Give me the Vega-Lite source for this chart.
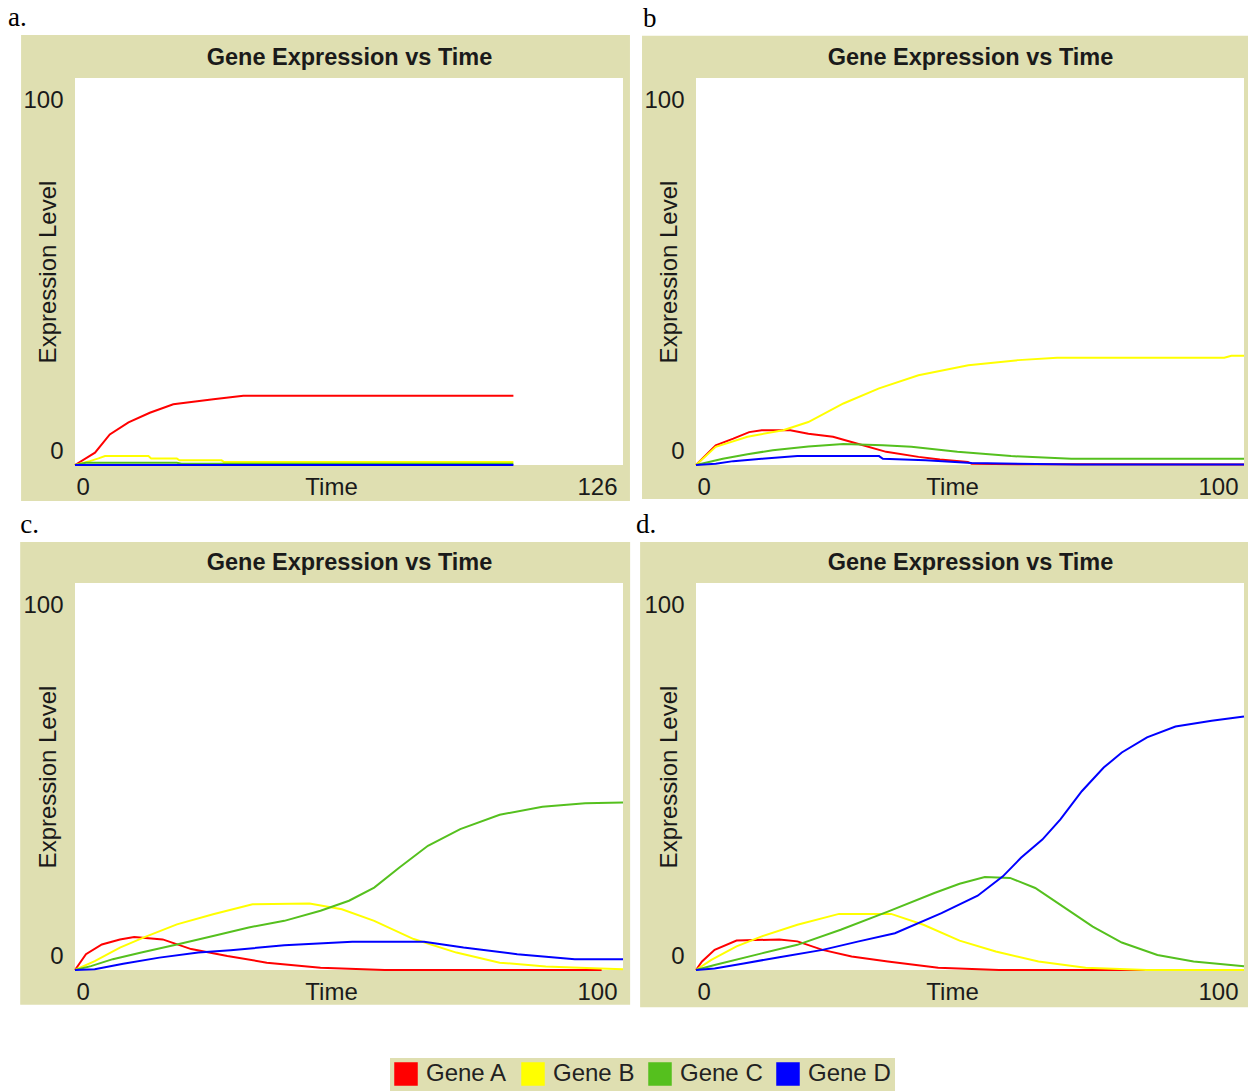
{
  "$schema": "https://vega.github.io/schema/vega-lite/v6.json",
  "background": "white",
  "padding": {"left": 8, "top": 4, "right": 0, "bottom": 0},
  "datasets": {
    "expr": [
      {"p":"a","g":"Gene A","t":0,"v":0},{"p":"a","g":"Gene A","t":4.6,"v":3.2},{"p":"a","g":"Gene A","t":8.0,"v":7.9},{"p":"a","g":"Gene A","t":12.3,"v":11.0},{"p":"a","g":"Gene A","t":17.2,"v":13.5},{"p":"a","g":"Gene A","t":22.6,"v":15.7},{"p":"a","g":"Gene A","t":31.8,"v":17.0},{"p":"a","g":"Gene A","t":38.7,"v":17.9},{"p":"a","g":"Gene A","t":100.8,"v":17.9},
      {"p":"a","g":"Gene B","t":0,"v":0},{"p":"a","g":"Gene B","t":3.4,"v":1.0},{"p":"a","g":"Gene B","t":5.4,"v":1.7},{"p":"a","g":"Gene B","t":6.9,"v":2.3},{"p":"a","g":"Gene B","t":16.9,"v":2.3},{"p":"a","g":"Gene B","t":17.5,"v":1.7},{"p":"a","g":"Gene B","t":23.4,"v":1.7},{"p":"a","g":"Gene B","t":24.0,"v":1.2},{"p":"a","g":"Gene B","t":33.7,"v":1.2},{"p":"a","g":"Gene B","t":34.2,"v":0.8},{"p":"a","g":"Gene B","t":100.8,"v":0.8},
      {"p":"a","g":"Gene C","t":0,"v":0},{"p":"a","g":"Gene C","t":2.5,"v":0.6},{"p":"a","g":"Gene C","t":23.4,"v":0.6},{"p":"a","g":"Gene C","t":24.5,"v":0.3},{"p":"a","g":"Gene C","t":100.8,"v":0.3},
      {"p":"a","g":"Gene D","t":0,"v":0},{"p":"a","g":"Gene D","t":100.8,"v":0},

      {"p":"b","g":"Gene A","t":0,"v":0},{"p":"b","g":"Gene A","t":3.6,"v":5.1},{"p":"b","g":"Gene A","t":6.8,"v":6.8},{"p":"b","g":"Gene A","t":9.7,"v":8.5},{"p":"b","g":"Gene A","t":12.0,"v":9.0},{"p":"b","g":"Gene A","t":17.2,"v":9.0},{"p":"b","g":"Gene A","t":20.5,"v":8.1},{"p":"b","g":"Gene A","t":25.0,"v":7.3},{"p":"b","g":"Gene A","t":29.5,"v":5.5},{"p":"b","g":"Gene A","t":34.7,"v":3.4},{"p":"b","g":"Gene A","t":40.6,"v":2.1},{"p":"b","g":"Gene A","t":44.5,"v":1.4},{"p":"b","g":"Gene A","t":49.6,"v":0.8},{"p":"b","g":"Gene A","t":50.3,"v":0.3},{"p":"b","g":"Gene A","t":60.0,"v":0.2},{"p":"b","g":"Gene A","t":69.5,"v":0.2},{"p":"b","g":"Gene A","t":100,"v":0.1},
      {"p":"b","g":"Gene B","t":0,"v":0},{"p":"b","g":"Gene B","t":3.6,"v":4.7},{"p":"b","g":"Gene B","t":9.4,"v":7.3},{"p":"b","g":"Gene B","t":15.9,"v":9.0},{"p":"b","g":"Gene B","t":20.5,"v":11.1},{"p":"b","g":"Gene B","t":26.9,"v":15.9},{"p":"b","g":"Gene B","t":33.4,"v":19.8},{"p":"b","g":"Gene B","t":40.6,"v":23.2},{"p":"b","g":"Gene B","t":49.7,"v":25.8},{"p":"b","g":"Gene B","t":58.8,"v":27.1},{"p":"b","g":"Gene B","t":65.9,"v":27.7},{"p":"b","g":"Gene B","t":96.4,"v":27.7},{"p":"b","g":"Gene B","t":97.7,"v":28.2},{"p":"b","g":"Gene B","t":100,"v":28.2},
      {"p":"b","g":"Gene C","t":0,"v":0},{"p":"b","g":"Gene C","t":4.9,"v":1.6},{"p":"b","g":"Gene C","t":9.4,"v":2.8},{"p":"b","g":"Gene C","t":14.0,"v":3.8},{"p":"b","g":"Gene C","t":20.5,"v":4.8},{"p":"b","g":"Gene C","t":26.9,"v":5.4},{"p":"b","g":"Gene C","t":34.1,"v":5.1},{"p":"b","g":"Gene C","t":39.3,"v":4.7},{"p":"b","g":"Gene C","t":47.7,"v":3.4},{"p":"b","g":"Gene C","t":57.5,"v":2.3},{"p":"b","g":"Gene C","t":68.5,"v":1.6},{"p":"b","g":"Gene C","t":100,"v":1.6},
      {"p":"b","g":"Gene D","t":0,"v":0},{"p":"b","g":"Gene D","t":3.6,"v":0.3},{"p":"b","g":"Gene D","t":6.8,"v":1.0},{"p":"b","g":"Gene D","t":12.0,"v":1.6},{"p":"b","g":"Gene D","t":18.5,"v":2.3},{"p":"b","g":"Gene D","t":33.4,"v":2.3},{"p":"b","g":"Gene D","t":34.1,"v":1.6},{"p":"b","g":"Gene D","t":41.9,"v":1.2},{"p":"b","g":"Gene D","t":50.3,"v":0.5},{"p":"b","g":"Gene D","t":69.5,"v":0.1},{"p":"b","g":"Gene D","t":100,"v":0.1},

      {"p":"c","g":"Gene A","t":0,"v":0},{"p":"c","g":"Gene A","t":2.0,"v":4.1},{"p":"c","g":"Gene A","t":4.9,"v":6.6},{"p":"c","g":"Gene A","t":8.2,"v":7.9},{"p":"c","g":"Gene A","t":10.8,"v":8.5},{"p":"c","g":"Gene A","t":16.0,"v":7.9},{"p":"c","g":"Gene A","t":21.2,"v":5.4},{"p":"c","g":"Gene A","t":27.8,"v":3.6},{"p":"c","g":"Gene A","t":35.0,"v":1.9},{"p":"c","g":"Gene A","t":44.8,"v":0.6},{"p":"c","g":"Gene A","t":56.5,"v":0},{"p":"c","g":"Gene A","t":96.1,"v":0},
      {"p":"c","g":"Gene B","t":0,"v":0},{"p":"c","g":"Gene B","t":3.6,"v":2.3},{"p":"c","g":"Gene B","t":8.2,"v":5.8},{"p":"c","g":"Gene B","t":12.7,"v":8.5},{"p":"c","g":"Gene B","t":18.6,"v":11.8},{"p":"c","g":"Gene B","t":25.2,"v":14.4},{"p":"c","g":"Gene B","t":32.4,"v":17.0},{"p":"c","g":"Gene B","t":42.8,"v":17.2},{"p":"c","g":"Gene B","t":48.7,"v":15.7},{"p":"c","g":"Gene B","t":54.6,"v":12.7},{"p":"c","g":"Gene B","t":61.8,"v":8.0},{"p":"c","g":"Gene B","t":69.6,"v":4.5},{"p":"c","g":"Gene B","t":77.5,"v":1.9},{"p":"c","g":"Gene B","t":85.9,"v":0.9},{"p":"c","g":"Gene B","t":95.8,"v":0.4},{"p":"c","g":"Gene B","t":100,"v":0.2},
      {"p":"c","g":"Gene C","t":0,"v":0},{"p":"c","g":"Gene C","t":2.9,"v":1.0},{"p":"c","g":"Gene C","t":6.9,"v":2.8},{"p":"c","g":"Gene C","t":12.1,"v":4.5},{"p":"c","g":"Gene C","t":18.6,"v":6.6},{"p":"c","g":"Gene C","t":25.2,"v":8.8},{"p":"c","g":"Gene C","t":31.7,"v":11.0},{"p":"c","g":"Gene C","t":38.2,"v":12.7},{"p":"c","g":"Gene C","t":44.8,"v":15.3},{"p":"c","g":"Gene C","t":50.0,"v":17.9},{"p":"c","g":"Gene C","t":54.6,"v":21.3},{"p":"c","g":"Gene C","t":59.2,"v":26.5},{"p":"c","g":"Gene C","t":64.4,"v":32.1},{"p":"c","g":"Gene C","t":70.3,"v":36.4},{"p":"c","g":"Gene C","t":77.5,"v":40.1},{"p":"c","g":"Gene C","t":85.3,"v":42.2},{"p":"c","g":"Gene C","t":93.1,"v":43.1},{"p":"c","g":"Gene C","t":100,"v":43.3},
      {"p":"c","g":"Gene D","t":0,"v":0},{"p":"c","g":"Gene D","t":3.6,"v":0.2},{"p":"c","g":"Gene D","t":8.8,"v":1.6},{"p":"c","g":"Gene D","t":15.4,"v":3.2},{"p":"c","g":"Gene D","t":22.5,"v":4.5},{"p":"c","g":"Gene D","t":28.4,"v":5.1},{"p":"c","g":"Gene D","t":38.2,"v":6.4},{"p":"c","g":"Gene D","t":50.6,"v":7.3},{"p":"c","g":"Gene D","t":63.7,"v":7.3},{"p":"c","g":"Gene D","t":70.9,"v":5.8},{"p":"c","g":"Gene D","t":80.7,"v":4.1},{"p":"c","g":"Gene D","t":91.2,"v":2.8},{"p":"c","g":"Gene D","t":100,"v":2.8},

      {"p":"d","g":"Gene A","t":0,"v":0},{"p":"d","g":"Gene A","t":1.1,"v":2.2},{"p":"d","g":"Gene A","t":3.4,"v":5.2},{"p":"d","g":"Gene A","t":7.4,"v":7.6},{"p":"d","g":"Gene A","t":15.2,"v":7.9},{"p":"d","g":"Gene A","t":18.5,"v":7.4},{"p":"d","g":"Gene A","t":23.1,"v":5.2},{"p":"d","g":"Gene A","t":28.4,"v":3.5},{"p":"d","g":"Gene A","t":35.0,"v":2.2},{"p":"d","g":"Gene A","t":44.2,"v":0.6},{"p":"d","g":"Gene A","t":55.3,"v":0},{"p":"d","g":"Gene A","t":81.9,"v":0},
      {"p":"d","g":"Gene B","t":0,"v":0},{"p":"d","g":"Gene B","t":2.8,"v":2.6},{"p":"d","g":"Gene B","t":7.4,"v":6.1},{"p":"d","g":"Gene B","t":12.0,"v":8.7},{"p":"d","g":"Gene B","t":18.5,"v":11.7},{"p":"d","g":"Gene B","t":26.1,"v":14.5},{"p":"d","g":"Gene B","t":35.6,"v":14.5},{"p":"d","g":"Gene B","t":41.5,"v":11.7},{"p":"d","g":"Gene B","t":48.1,"v":7.6},{"p":"d","g":"Gene B","t":54.7,"v":4.8},{"p":"d","g":"Gene B","t":62.5,"v":2.2},{"p":"d","g":"Gene B","t":71.1,"v":0.6},{"p":"d","g":"Gene B","t":82.3,"v":0},{"p":"d","g":"Gene B","t":100,"v":0},
      {"p":"d","g":"Gene C","t":0,"v":0},{"p":"d","g":"Gene C","t":3.4,"v":1.3},{"p":"d","g":"Gene C","t":12.0,"v":4.3},{"p":"d","g":"Gene C","t":18.5,"v":6.5},{"p":"d","g":"Gene C","t":26.4,"v":10.4},{"p":"d","g":"Gene C","t":35.0,"v":15.1},{"p":"d","g":"Gene C","t":43.5,"v":19.9},{"p":"d","g":"Gene C","t":48.1,"v":22.3},{"p":"d","g":"Gene C","t":52.7,"v":24.0},{"p":"d","g":"Gene C","t":57.3,"v":23.8},{"p":"d","g":"Gene C","t":61.9,"v":21.2},{"p":"d","g":"Gene C","t":67.8,"v":15.6},{"p":"d","g":"Gene C","t":72.4,"v":11.2},{"p":"d","g":"Gene C","t":77.7,"v":7.1},{"p":"d","g":"Gene C","t":84.2,"v":3.9},{"p":"d","g":"Gene C","t":90.8,"v":2.2},{"p":"d","g":"Gene C","t":100,"v":1.0},
      {"p":"d","g":"Gene D","t":0,"v":0},{"p":"d","g":"Gene D","t":3.4,"v":0.4},{"p":"d","g":"Gene D","t":8.7,"v":1.7},{"p":"d","g":"Gene D","t":15.2,"v":3.3},{"p":"d","g":"Gene D","t":23.1,"v":5.2},{"p":"d","g":"Gene D","t":29.7,"v":7.4},{"p":"d","g":"Gene D","t":36.3,"v":9.5},{"p":"d","g":"Gene D","t":44.8,"v":14.7},{"p":"d","g":"Gene D","t":51.4,"v":19.2},{"p":"d","g":"Gene D","t":56.0,"v":24.2},{"p":"d","g":"Gene D","t":59.3,"v":29.0},{"p":"d","g":"Gene D","t":63.2,"v":33.7},{"p":"d","g":"Gene D","t":66.5,"v":38.9},{"p":"d","g":"Gene D","t":70.4,"v":46.2},{"p":"d","g":"Gene D","t":74.4,"v":52.3},{"p":"d","g":"Gene D","t":77.7,"v":56.2},{"p":"d","g":"Gene D","t":82.3,"v":60.1},{"p":"d","g":"Gene D","t":87.5,"v":62.9},{"p":"d","g":"Gene D","t":94.1,"v":64.4},{"p":"d","g":"Gene D","t":100,"v":65.5}
    ]
  },
  "columns": 2,
  "bounds": "flush",
  "spacing": {"row": 118, "column": 73},
  "concat": [
    {
      "width": 548, "height": 387,
      "title": {"text": "a.", "dx": -13},
      "layer": [
        {"data": {"values": [{}]}, "mark": {"type": "rect", "color": "#dfdfb1"},
         "encoding": {
           "x": {"datum": -12.4, "type": "quantitative", "scale": {"domain": [0, 126], "nice": false, "zero": false}, "axis": null},
           "x2": {"datum": 127.6},
           "y": {"datum": 111.1, "type": "quantitative", "scale": {"domain": [0, 100], "nice": false}, "axis": null},
           "y2": {"datum": -9.3}}},
        {"data": {"values": [{}]}, "mark": {"type": "rect", "color": "#ffffff"},
         "encoding": {
           "x": {"datum": 0, "type": "quantitative", "scale": {"domain": [0, 126], "nice": false, "zero": false},
                 "axis": {"orient": "top", "zindex": 2, "title": "Gene Expression vs Time", "labels": false, "ticks": false, "domain": false, "grid": false, "titleFontWeight": "bold", "titleFontSize": 23.5, "titleX": 274, "titleY": -14, "titleAlign": "center", "titleBaseline": "alphabetic"}},
           "x2": {"datum": 126},
           "y": {"datum": 100, "type": "quantitative", "scale": {"domain": [0, 100], "nice": false}, "axis": null},
           "y2": {"datum": 0}}},
        {"data": {"name": "expr"}, "transform": [{"filter": "datum.p == 'a'"}],
         "mark": {"type": "line", "strokeWidth": 2},
         "encoding": {
           "x": {"field": "t", "type": "quantitative", "scale": {"domain": [0, 126], "nice": false, "zero": false},
                 "axis": {"orient": "bottom", "zindex": 2, "values": [0, 126], "title": "Time", "titleX": 256, "titleY": 29, "titleAlign": "center", "titleBaseline": "alphabetic", "labelFlush": false, "labelBaseline": "alphabetic", "labelPadding": 29,
                          "labelAlign": {"condition": {"test": "datum.value == 0", "value": "left"}, "value": "right"},
                          "labelOffset": {"condition": {"test": "datum.value == 0", "value": 1}, "value": -6}}},
           "y": {"field": "v", "type": "quantitative", "scale": {"domain": [0, 100], "nice": false},
                 "axis": {"orient": "left", "zindex": 2, "values": [0, 100], "title": "Expression Level", "titleX": -20, "titleY": 193.5, "titleAngle": -90, "titleAlign": "center", "titleBaseline": "alphabetic", "labelFlush": false, "labelAlign": "right", "labelBaseline": "alphabetic", "labelPadding": 12,
                          "labelOffset": {"condition": {"test": "datum.value == 100", "value": 29}, "value": -7}}},
           "color": {"field": "g", "type": "nominal",
                     "scale": {"domain": ["Gene A", "Gene B", "Gene C", "Gene D"], "range": ["#ff0000", "#ffff00", "#55c01e", "#0000ff"]},
                     "legend": {"orient": "none", "legendX": 315, "legendY": 980, "direction": "horizontal", "title": null, "symbolType": "square", "symbolSize": 484, "symbolStrokeWidth": 1.5, "labelFont": "Liberation Sans", "labelFontSize": 24, "labelColor": "#222222", "labelOffset": 8, "columnPadding": 11, "fillColor": "#dfdfb1", "padding": 4,
                                "encode": {"symbols": {"update": {"fill": {"scale": "color", "field": "value"}, "fillOpacity": {"value": 1}, "stroke": {"value": "#111111"}}}}}}}}
      ],
      "resolve": {"axis": {"x": "independent", "y": "independent"}}
    },
    {
      "width": 548, "height": 387,
      "title": {"text": "b", "dx": 1},
      "layer": [
        {"data": {"values": [{}]}, "mark": {"type": "rect", "color": "#dfdfb1"},
         "encoding": {
           "x": {"datum": -9.85, "type": "quantitative", "scale": {"domain": [0, 100], "nice": false, "zero": false}, "axis": null},
           "x2": {"datum": 100.75},
           "y": {"datum": 110.9, "type": "quantitative", "scale": {"domain": [0, 100], "nice": false}, "axis": null},
           "y2": {"datum": -8.8}}},
        {"data": {"values": [{}]}, "mark": {"type": "rect", "color": "#ffffff"},
         "encoding": {
           "x": {"datum": 0, "type": "quantitative", "scale": {"domain": [0, 100], "nice": false, "zero": false},
                 "axis": {"orient": "top", "zindex": 2, "title": "Gene Expression vs Time", "labels": false, "ticks": false, "domain": false, "grid": false, "titleFontWeight": "bold", "titleFontSize": 23.5, "titleX": 274, "titleY": -14, "titleAlign": "center", "titleBaseline": "alphabetic"}},
           "x2": {"datum": 100},
           "y": {"datum": 100, "type": "quantitative", "scale": {"domain": [0, 100], "nice": false}, "axis": null},
           "y2": {"datum": 0}}},
        {"data": {"name": "expr"}, "transform": [{"filter": "datum.p == 'b'"}],
         "mark": {"type": "line", "strokeWidth": 2},
         "encoding": {
           "x": {"field": "t", "type": "quantitative", "scale": {"domain": [0, 100], "nice": false, "zero": false},
                 "axis": {"orient": "bottom", "zindex": 2, "values": [0, 100], "title": "Time", "titleX": 256, "titleY": 29, "titleAlign": "center", "titleBaseline": "alphabetic", "labelFlush": false, "labelBaseline": "alphabetic", "labelPadding": 29,
                          "labelAlign": {"condition": {"test": "datum.value == 0", "value": "left"}, "value": "right"},
                          "labelOffset": {"condition": {"test": "datum.value == 0", "value": 1}, "value": -6}}},
           "y": {"field": "v", "type": "quantitative", "scale": {"domain": [0, 100], "nice": false},
                 "axis": {"orient": "left", "zindex": 2, "values": [0, 100], "title": "Expression Level", "titleX": -20, "titleY": 193.5, "titleAngle": -90, "titleAlign": "center", "titleBaseline": "alphabetic", "labelFlush": false, "labelAlign": "right", "labelBaseline": "alphabetic", "labelPadding": 12,
                          "labelOffset": {"condition": {"test": "datum.value == 100", "value": 29}, "value": -7}}},
           "color": {"field": "g", "type": "nominal",
                     "scale": {"domain": ["Gene A", "Gene B", "Gene C", "Gene D"], "range": ["#ff0000", "#ffff00", "#55c01e", "#0000ff"]},
                     "legend": {"orient": "none", "legendX": 315, "legendY": 980, "direction": "horizontal", "title": null, "symbolType": "square", "symbolSize": 484, "symbolStrokeWidth": 1.5, "labelFont": "Liberation Sans", "labelFontSize": 24, "labelColor": "#222222", "labelOffset": 8, "columnPadding": 11, "fillColor": "#dfdfb1", "padding": 4,
                                "encode": {"symbols": {"update": {"fill": {"scale": "color", "field": "value"}, "fillOpacity": {"value": 1}, "stroke": {"value": "#111111"}}}}}}}}
      ],
      "resolve": {"axis": {"x": "independent", "y": "independent"}}
    },
    {
      "width": 548, "height": 387,
      "title": {"text": "c.", "dx": 0},
      "layer": [
        {"data": {"values": [{}]}, "mark": {"type": "rect", "color": "#dfdfb1"},
         "encoding": {
           "x": {"datum": -10.0, "type": "quantitative", "scale": {"domain": [0, 100], "nice": false, "zero": false}, "axis": null},
           "x2": {"datum": 101.3},
           "y": {"datum": 110.6, "type": "quantitative", "scale": {"domain": [0, 100], "nice": false}, "axis": null},
           "y2": {"datum": -9.0}}},
        {"data": {"values": [{}]}, "mark": {"type": "rect", "color": "#ffffff"},
         "encoding": {
           "x": {"datum": 0, "type": "quantitative", "scale": {"domain": [0, 100], "nice": false, "zero": false},
                 "axis": {"orient": "top", "zindex": 2, "title": "Gene Expression vs Time", "labels": false, "ticks": false, "domain": false, "grid": false, "titleFontWeight": "bold", "titleFontSize": 23.5, "titleX": 274, "titleY": -14, "titleAlign": "center", "titleBaseline": "alphabetic"}},
           "x2": {"datum": 100},
           "y": {"datum": 100, "type": "quantitative", "scale": {"domain": [0, 100], "nice": false}, "axis": null},
           "y2": {"datum": 0}}},
        {"data": {"name": "expr"}, "transform": [{"filter": "datum.p == 'c'"}],
         "mark": {"type": "line", "strokeWidth": 2},
         "encoding": {
           "x": {"field": "t", "type": "quantitative", "scale": {"domain": [0, 100], "nice": false, "zero": false},
                 "axis": {"orient": "bottom", "zindex": 2, "values": [0, 100], "title": "Time", "titleX": 256, "titleY": 29, "titleAlign": "center", "titleBaseline": "alphabetic", "labelFlush": false, "labelBaseline": "alphabetic", "labelPadding": 29,
                          "labelAlign": {"condition": {"test": "datum.value == 0", "value": "left"}, "value": "right"},
                          "labelOffset": {"condition": {"test": "datum.value == 0", "value": 1}, "value": -6}}},
           "y": {"field": "v", "type": "quantitative", "scale": {"domain": [0, 100], "nice": false},
                 "axis": {"orient": "left", "zindex": 2, "values": [0, 100], "title": "Expression Level", "titleX": -20, "titleY": 193.5, "titleAngle": -90, "titleAlign": "center", "titleBaseline": "alphabetic", "labelFlush": false, "labelAlign": "right", "labelBaseline": "alphabetic", "labelPadding": 12,
                          "labelOffset": {"condition": {"test": "datum.value == 100", "value": 29}, "value": -7}}},
           "color": {"field": "g", "type": "nominal",
                     "scale": {"domain": ["Gene A", "Gene B", "Gene C", "Gene D"], "range": ["#ff0000", "#ffff00", "#55c01e", "#0000ff"]},
                     "legend": {"orient": "none", "legendX": 315, "legendY": 980, "direction": "horizontal", "title": null, "symbolType": "square", "symbolSize": 484, "symbolStrokeWidth": 1.5, "labelFont": "Liberation Sans", "labelFontSize": 24, "labelColor": "#222222", "labelOffset": 8, "columnPadding": 11, "fillColor": "#dfdfb1", "padding": 4,
                                "encode": {"symbols": {"update": {"fill": {"scale": "color", "field": "value"}, "fillOpacity": {"value": 1}, "stroke": {"value": "#111111"}}}}}}}}
      ],
      "resolve": {"axis": {"x": "independent", "y": "independent"}}
    },
    {
      "width": 548, "height": 387,
      "title": {"text": "d.", "dx": -4},
      "layer": [
        {"data": {"values": [{}]}, "mark": {"type": "rect", "color": "#dfdfb1"},
         "encoding": {
           "x": {"datum": -10.2, "type": "quantitative", "scale": {"domain": [0, 100], "nice": false, "zero": false}, "axis": null},
           "x2": {"datum": 100.75},
           "y": {"datum": 110.6, "type": "quantitative", "scale": {"domain": [0, 100], "nice": false}, "axis": null},
           "y2": {"datum": -9.6}}},
        {"data": {"values": [{}]}, "mark": {"type": "rect", "color": "#ffffff"},
         "encoding": {
           "x": {"datum": 0, "type": "quantitative", "scale": {"domain": [0, 100], "nice": false, "zero": false},
                 "axis": {"orient": "top", "zindex": 2, "title": "Gene Expression vs Time", "labels": false, "ticks": false, "domain": false, "grid": false, "titleFontWeight": "bold", "titleFontSize": 23.5, "titleX": 274, "titleY": -14, "titleAlign": "center", "titleBaseline": "alphabetic"}},
           "x2": {"datum": 100},
           "y": {"datum": 100, "type": "quantitative", "scale": {"domain": [0, 100], "nice": false}, "axis": null},
           "y2": {"datum": 0}}},
        {"data": {"name": "expr"}, "transform": [{"filter": "datum.p == 'd'"}],
         "mark": {"type": "line", "strokeWidth": 2},
         "encoding": {
           "x": {"field": "t", "type": "quantitative", "scale": {"domain": [0, 100], "nice": false, "zero": false},
                 "axis": {"orient": "bottom", "zindex": 2, "values": [0, 100], "title": "Time", "titleX": 256, "titleY": 29, "titleAlign": "center", "titleBaseline": "alphabetic", "labelFlush": false, "labelBaseline": "alphabetic", "labelPadding": 29,
                          "labelAlign": {"condition": {"test": "datum.value == 0", "value": "left"}, "value": "right"},
                          "labelOffset": {"condition": {"test": "datum.value == 0", "value": 1}, "value": -6}}},
           "y": {"field": "v", "type": "quantitative", "scale": {"domain": [0, 100], "nice": false},
                 "axis": {"orient": "left", "zindex": 2, "values": [0, 100], "title": "Expression Level", "titleX": -20, "titleY": 193.5, "titleAngle": -90, "titleAlign": "center", "titleBaseline": "alphabetic", "labelFlush": false, "labelAlign": "right", "labelBaseline": "alphabetic", "labelPadding": 12,
                          "labelOffset": {"condition": {"test": "datum.value == 100", "value": 29}, "value": -7}}},
           "color": {"field": "g", "type": "nominal",
                     "scale": {"domain": ["Gene A", "Gene B", "Gene C", "Gene D"], "range": ["#ff0000", "#ffff00", "#55c01e", "#0000ff"]},
                     "legend": {"orient": "none", "legendX": 315, "legendY": 980, "direction": "horizontal", "title": null, "symbolType": "square", "symbolSize": 484, "symbolStrokeWidth": 1.5, "labelFont": "Liberation Sans", "labelFontSize": 24, "labelColor": "#222222", "labelOffset": 8, "columnPadding": 11, "fillColor": "#dfdfb1", "padding": 4,
                                "encode": {"symbols": {"update": {"fill": {"scale": "color", "field": "value"}, "fillOpacity": {"value": 1}, "stroke": {"value": "#111111"}}}}}}}}
      ],
      "resolve": {"axis": {"x": "independent", "y": "independent"}}
    }
  ],
  "config": {
    "view": {"stroke": null},
    "axis": {"grid": false, "domain": false, "ticks": false, "tickSize": 0, "labelFont": "Liberation Sans", "labelFontSize": 24, "labelColor": "#1a1a1a", "titleFont": "Liberation Sans", "titleFontSize": 24, "titleFontWeight": "normal", "titleColor": "#1a1a1a"},
    "title": {"font": "Liberation Serif", "fontSize": 27, "fontWeight": "normal", "anchor": "start", "color": "#000000", "baseline": "alphabetic", "offset": 3}
  }
}
